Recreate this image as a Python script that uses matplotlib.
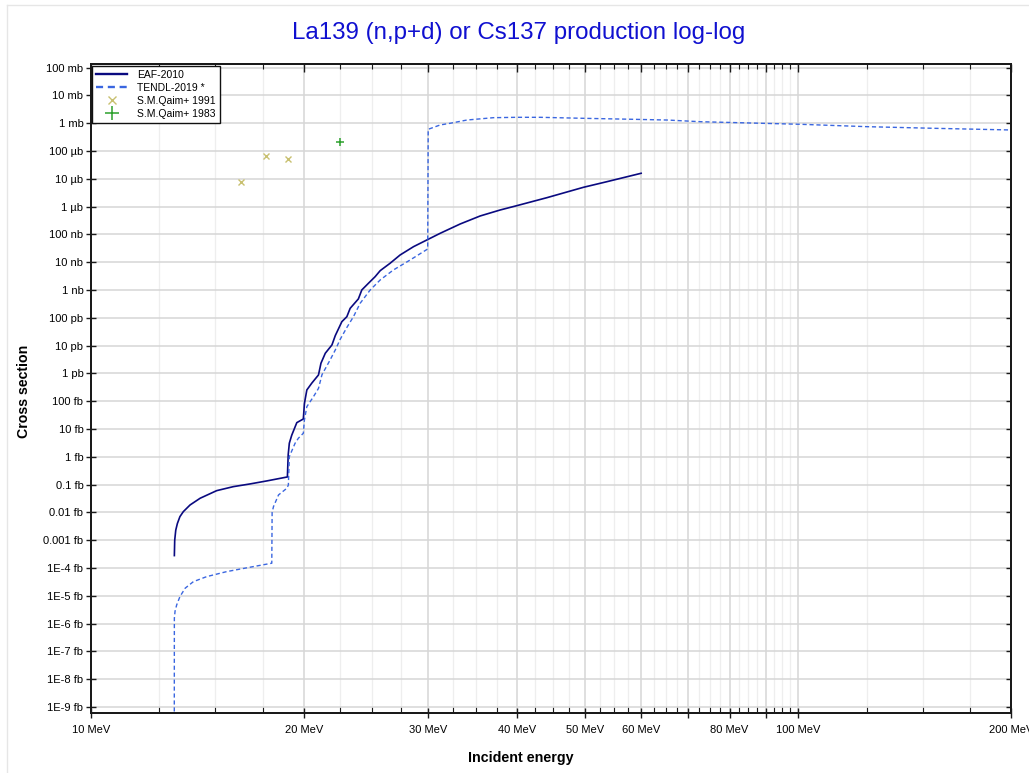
import matplotlib
matplotlib.use("Agg")
import matplotlib.pyplot as plt
from matplotlib.ticker import FixedLocator, FixedFormatter, NullFormatter
from matplotlib.lines import Line2D

plt.rcParams['font.family'] = ['Liberation Sans', 'DejaVu Sans']

title = "La139 (n,p+d) or Cs137 production log-log"
x_label = "Incident energy"
y_label = "Cross section"

# EAF-2010 (energy in MeV, cross section in barn)
eaf_energy = [13.13, 13.145, 13.19, 13.26, 13.37, 13.52, 13.82, 14.28, 15.07, 15.91,
              16.80, 17.74, 18.97, 19.02, 19.09, 19.24, 19.56, 19.98, 20.05, 20.09,
              20.21, 20.54, 20.99, 21.16, 21.46, 21.93, 22.17, 22.65, 23.02, 23.27,
              23.90, 24.17, 24.70, 25.24, 25.66, 26.50, 27.38, 28.60, 29.87, 31.19,
              33.30, 35.53, 37.92, 40.05, 44.16, 49.75, 53.68, 60.0]
eaf_xs = [2.8e-19, 1.0e-18, 2.3e-18, 4.0e-18, 7.06e-18, 1.07e-17, 1.86e-17, 3.24e-17, 6.08e-17, 8.47e-17,
          1.06e-16, 1.36e-16, 1.89e-16, 1.2e-15, 3.1e-15, 6.0e-15, 1.7e-14, 2.3e-14, 8.0e-14, 1.1e-13,
          2.55e-13, 4.5e-13, 8.83e-13, 2.33e-12, 5.33e-12, 1.06e-11, 2.3e-11, 7.3e-11, 1.10e-10, 2.2e-10,
          4.8e-10, 1.01e-9, 1.76e-9, 3.03e-9, 4.99e-9, 9.2e-9, 1.83e-8, 3.64e-8, 6.34e-8, 1.10e-7,
          2.39e-7, 4.63e-7, 7.6e-7, 1.09e-6, 2.11e-6, 4.99e-6, 7.93e-6, 1.59e-5]

# TENDL-2019
tendl_energy = [13.125, 13.13, 13.16, 13.23, 13.37, 13.60, 13.97, 14.59, 15.57, 16.80,
                18.03, 18.05, 18.13, 18.43, 18.94, 19.03, 19.09, 19.45, 19.66, 19.98,
                20.05, 20.21, 20.65, 20.99, 21.23, 21.80, 22.17, 22.53, 23.02, 23.52,
                24.04, 24.84, 25.66, 26.79, 28.29, 29.95, 30.0, 31.19, 32.22, 34.03,
                37.10, 40.05, 43.20, 49.75, 58.55, 65.28, 72.75, 100.75, 125.2, 155.5,
                200.0]
tendl_xs = [1e-27, 1.56e-21, 2.8e-21, 4.71e-21, 9.35e-21, 1.88e-20, 3.24e-20, 4.91e-20, 7.43e-20, 1.07e-19,
            1.49e-19, 1.0e-17, 1.62e-17, 4.26e-17, 7.43e-17, 9.75e-17, 1.02e-15, 3.08e-15, 4.67e-15, 7.06e-15,
            2.12e-14, 6.4e-14, 1.46e-13, 2.9e-13, 9.0e-13, 3.06e-12, 7.0e-12, 1.7e-11, 4.5e-11, 1.10e-10,
            3.35e-10, 1.01e-9, 2.31e-9, 5.29e-9, 1.21e-8, 3.0e-8, 6.08e-4, 8.7e-4, 1.0e-3, 1.31e-3,
            1.59e-3, 1.64e-3, 1.64e-3, 1.51e-3, 1.39e-3, 1.31e-3, 1.14e-3, 9.2e-4, 7.55e-4, 6.6e-4,
            5.74e-4]

# Experimental data
qaim1991_energy = [16.32, 17.68, 19.03]
qaim1991_xs = [7.55e-6, 6.67e-5, 5.07e-5]
qaim1983_energy = [22.50]
qaim1983_xs = [2.18e-4]

series_labels = ["EAF-2010", "TENDL-2019 *", "S.M.Qaim+ 1991", "S.M.Qaim+ 1983"]

x_major = [10, 20, 30, 40, 50, 60, 70, 80, 90, 100, 200]
x_major_labels = ["10 MeV", "20 MeV", "30 MeV", "40 MeV", "50 MeV", "60 MeV", "",
                  "80 MeV", "", "100 MeV", "200 MeV"]
x_minor = [12.5, 15, 17.5, 22.5, 25, 27.5, 32.5, 35, 37.5, 42.5, 45, 47.5,
           52.5, 55, 57.5, 62.5, 65, 67.5, 72.5, 75, 77.5, 82.5, 85, 87.5,
           92.5, 95, 97.5, 125, 150, 175]
y_major = [1e-24, 1e-23, 1e-22, 1e-21, 1e-20, 1e-19, 1e-18, 1e-17, 1e-16, 1e-15,
           1e-14, 1e-13, 1e-12, 1e-11, 1e-10, 1e-9, 1e-8, 1e-7, 1e-6, 1e-5,
           1e-4, 1e-3, 1e-2, 1e-1]
y_major_labels = ["1E-9 fb", "1E-8 fb", "1E-7 fb", "1E-6 fb", "1E-5 fb", "1E-4 fb",
                  "0.001 fb", "0.01 fb", "0.1 fb", "1 fb", "10 fb", "100 fb",
                  "1 pb", "10 pb", "100 pb", "1 nb", "10 nb", "100 nb",
                  "1 µb", "10 µb", "100 µb", "1 mb", "10 mb", "100 mb"]

W, H = 1029, 773
fig = plt.figure(figsize=(W / 100, H / 100), dpi=100)
ax = fig.add_axes([90.7 / W, 1 - 712.7 / H, (1011 - 90.7) / W, (712.7 - 64.3) / H])

h1, = ax.plot(eaf_energy, eaf_xs, color='#0a0a80', lw=1.2, zorder=3)
h2, = ax.plot(tendl_energy, tendl_xs, color='#3a66e0', lw=1.0, ls=(0, (3, 2)), zorder=3)
h3, = ax.plot(qaim1991_energy, qaim1991_xs, ls='none', marker='x', ms=4, mew=1.0,
              color='#c8c070', zorder=4)
h4, = ax.plot(qaim1983_energy, qaim1983_xs, ls='none', marker='+', ms=6, mew=1.1,
              color='#2ca02c', zorder=4)

xlim = (10, 200)
ylim = (10 ** -24.205, 10 ** -0.878)
ax.set_xscale('log')
ax.set_yscale('log')
ax.set_xlim(*xlim)
ax.set_ylim(*ylim)

ax.xaxis.set_major_locator(FixedLocator(x_major))
ax.xaxis.set_major_formatter(FixedFormatter(x_major_labels))
ax.xaxis.set_minor_locator(FixedLocator(x_minor))
ax.xaxis.set_minor_formatter(NullFormatter())
ax.yaxis.set_major_locator(FixedLocator(y_major))
ax.yaxis.set_major_formatter(FixedFormatter(y_major_labels))
ax.yaxis.set_minor_locator(FixedLocator([]))

ax.set_axisbelow(True)
ax.grid(which='major', axis='both', color='#d6d6d6', lw=1.1)
ax.grid(which='minor', axis='x', color='#eeeeee', lw=0.9)

# right side ticks (inward)
axr = ax.twinx()
axr.set_yscale('log')
axr.set_ylim(*ylim)
axr.yaxis.set_major_locator(FixedLocator(y_major))
axr.yaxis.set_minor_locator(FixedLocator([]))
axr.tick_params(axis='y', which='major', direction='in', length=3.5, width=1.0,
                labelright=False, color='#1a1a1a')

# top ticks (inward)
axt = ax.twiny()
axt.set_xscale('log')
axt.set_xlim(*xlim)
axt.xaxis.set_major_locator(FixedLocator(x_major))
axt.xaxis.set_minor_locator(FixedLocator(x_minor))
axt.xaxis.set_major_formatter(NullFormatter())
axt.xaxis.set_minor_formatter(NullFormatter())
axt.tick_params(axis='x', which='major', direction='in', length=6, width=1.0,
                labeltop=False, color='#1a1a1a')
axt.tick_params(axis='x', which='minor', direction='in', length=3.5, width=0.8,
                labeltop=False, color='#1a1a1a')

for a in (ax, axr, axt):
    for s in a.spines.values():
        s.set_color('#1a1a1a')
        s.set_linewidth(1.3)

ax.tick_params(axis='x', which='major', direction='inout', length=7, width=1.0,
               labelsize=8, pad=5, color='#1a1a1a')
ax.tick_params(axis='x', which='minor', direction='in', length=4, width=0.8,
               color='#1a1a1a')
ax.tick_params(axis='y', which='major', direction='inout', length=6.5, width=1.0,
               labelsize=8, pad=2, color='#1a1a1a')

ax.set_xlabel(x_label, fontsize=10.3, fontweight='bold')
ax.set_ylabel(y_label, fontsize=10.2, fontweight='bold')
ax.xaxis.set_label_coords((521 - 90.7) / (1011 - 90.7), (712.7 - 751) / (712.7 - 64.3))
ax.yaxis.set_label_coords((31 - 90.7) / (1011 - 90.7), (712.7 - 391) / (712.7 - 64.3))

fig.text(518.5 / W, 1 - 33 / H, title, color='#1010d0', fontsize=17.4,
         ha='center', va='center')

leg = axt.legend([h1, h2, h3, h4], series_labels, loc='upper left',
                 bbox_to_anchor=(0.0, 1.0), fontsize=7.5,
                 frameon=True, fancybox=False, framealpha=1, edgecolor='#111111',
                 borderaxespad=0.15, handlelength=2.9, handletextpad=1.0,
                 labelspacing=0.28, borderpad=0.4, markerscale=1.6)
leg.get_frame().set_linewidth(1.0)
for ln in leg.get_lines()[:2]:
    ln.set_linewidth(1.7)

fig.add_artist(Line2D([7 / W, 7 / W], [0, 1 - 5 / H], transform=fig.transFigure,
                      color='#e6e6e6', lw=1))
fig.add_artist(Line2D([7 / W, 1], [1 - 5 / H, 1 - 5 / H], transform=fig.transFigure,
                      color='#e6e6e6', lw=1))

fig.savefig("out.png", dpi=100)
